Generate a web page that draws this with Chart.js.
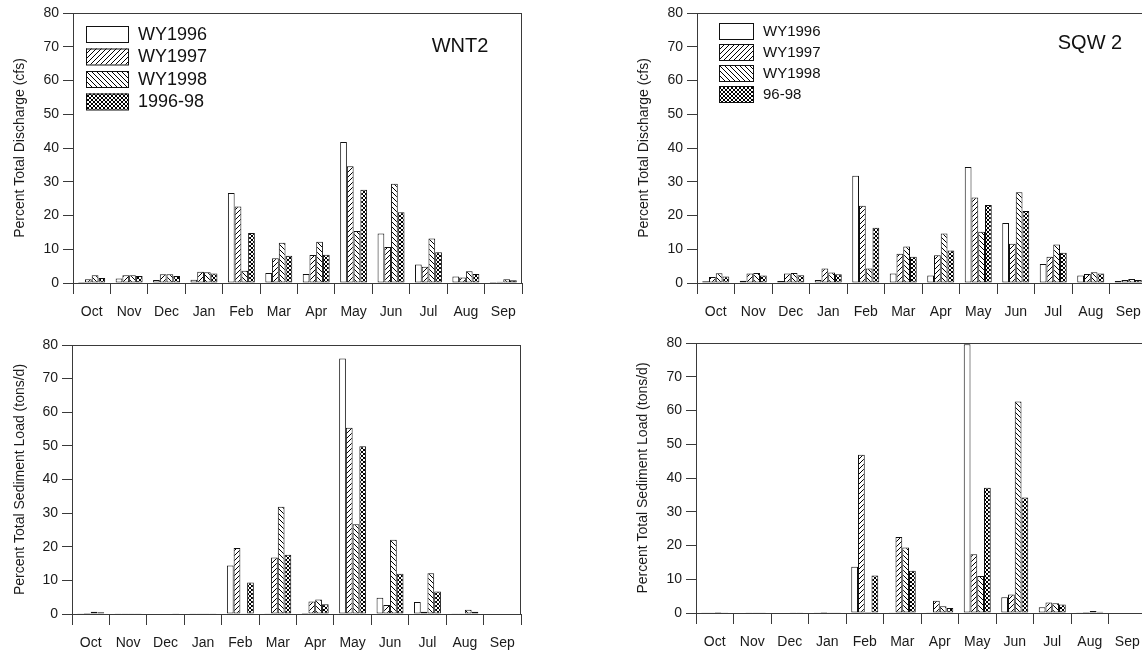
<!DOCTYPE html>
<html>
<head>
<meta charset="utf-8">
<script src="https://cdn.jsdelivr.net/npm/chart.js@4.4.0/dist/chart.umd.min.js"></script>
<style>
  html, body { margin: 0; padding: 0; background: #fff; overflow: hidden; }
  #wrap { position: relative; width: 1142px; height: 654px; overflow: hidden; }
  canvas { position: absolute; }
</style>
</head>
<body>
<div id="wrap">
  <canvas id="wntQ" width="560" height="330" style="left:0;top:0"></canvas>
  <canvas id="sqwQ" width="540" height="330" style="left:624px;top:0"></canvas>
  <canvas id="wntS" width="560" height="324" style="left:0;top:330px"></canvas>
  <canvas id="sqwS" width="540" height="324" style="left:623px;top:330px"></canvas>
</div>
<script>
// months of the water year
var months = ["Oct", "Nov", "Dec", "Jan", "Feb", "Mar", "Apr", "May", "Jun", "Jul", "Aug", "Sep"];
var yTicks = [0, 10, 20, 30, 40, 50, 60, 70, 80];

// WNT2 - percent total discharge
var wntQ1996 = [0.3, 1.3, 0.9, 1.0, 26.7, 3.0, 2.7, 41.8, 14.7, 5.5, 1.9, 0.3];
var wntQ1997 = [1.1, 2.3, 2.6, 3.3, 22.7, 7.3, 8.3, 34.6, 10.7, 4.8, 1.6, 0.4];
var wntQ1998 = [2.3, 2.3, 2.6, 3.2, 3.6, 11.9, 12.2, 15.4, 29.4, 13.2, 3.5, 1.1];
var wntQAvg = [1.5, 2.1, 2.1, 2.8, 14.8, 8.1, 8.4, 27.6, 21.0, 9.1, 2.7, 0.8];

// SQW 2 - percent total discharge
var sqwQ1996 = [0.5, 0.7, 0.6, 0.9, 31.8, 2.8, 2.2, 34.4, 17.8, 5.6, 2.2, 0.6];
var sqwQ1997 = [1.8, 2.8, 2.8, 4.3, 22.9, 8.7, 8.2, 25.3, 11.6, 7.8, 2.7, 0.9];
var sqwQ1998 = [2.9, 3.0, 3.0, 3.1, 4.3, 10.8, 14.7, 15.2, 26.9, 11.4, 3.2, 1.2];
var sqwQAvg = [1.9, 2.2, 2.3, 2.6, 16.4, 7.8, 9.6, 23.1, 21.3, 9.0, 2.8, 0.9];

// WNT2 - percent total sediment load
var wntS1996 = [0.2, 0.1, 0.0, 0.1, 14.4, 0.1, 0.3, 76.0, 4.8, 3.6, 0.1, 0.0];
var wntS1997 = [0.3, 0.1, 0.0, 0.1, 19.6, 16.8, 3.7, 55.4, 2.7, 0.7, 0.2, 0.0];
var wntS1998 = [0.7, 0.1, 0.0, 0.1, 0.2, 31.9, 4.3, 26.7, 22.1, 12.1, 1.3, 0.0];
var wntSAvg = [0.5, 0.1, 0.05, 0.1, 9.4, 17.6, 2.9, 49.9, 12.0, 6.7, 0.7, 0.0];

// SQW 2 - percent total sediment load
var sqwS1996 = [0.1, 0.0, 0.0, 0.05, 13.7, 0.05, 0.1, 79.6, 4.7, 1.7, 0.2, 0.0];
var sqwS1997 = [0.1, 0.1, 0.0, 0.3, 46.9, 22.5, 3.6, 17.4, 5.5, 3.1, 0.3, 0.0];
var sqwS1998 = [0.3, 0.1, 0.05, 0.1, 0.3, 19.4, 2.0, 11.0, 62.7, 2.9, 0.6, 0.0];
var sqwSAvg = [0.2, 0.05, 0.05, 0.1, 11.1, 12.5, 1.5, 37.1, 34.2, 2.5, 0.4, 0.0];

Chart.defaults.font.family = "'Liberation Sans', Arial, sans-serif";
Chart.defaults.color = "#1a1a1a";

var lineColor = "#3a3a3a";

// hatch fills like the old plotting package
function makePattern(kind) {
  var size = kind == "cross" ? 4 : 5;
  var c = document.createElement("canvas");
  c.width = size;
  c.height = size;
  var g = c.getContext("2d");
  g.fillStyle = "#fff";
  g.fillRect(0, 0, size, size);
  g.strokeStyle = "#000";
  g.lineWidth = 1;
  function fwd() {
    g.beginPath();
    g.moveTo(-1, size + 1); g.lineTo(size + 1, -1);
    g.moveTo(-1, 1); g.lineTo(1, -1);
    g.moveTo(size - 1, size + 1); g.lineTo(size + 1, size - 1);
    g.stroke();
  }
  function back() {
    g.beginPath();
    g.moveTo(-1, -1); g.lineTo(size + 1, size + 1);
    g.moveTo(-1, size - 1); g.lineTo(1, size + 1);
    g.moveTo(size - 1, -1); g.lineTo(size + 1, 1);
    g.stroke();
  }
  if (kind == "fwd") fwd();
  if (kind == "back") back();
  if (kind == "cross") { fwd(); back(); }
  return g.createPattern(c, "repeat");
}

var fills = ["#fff", makePattern("fwd"), makePattern("back"), makePattern("cross")];

function buildDatasets(series, labels) {
  var ds = [];
  for (var i = 0; i < series.length; i++) {
    ds.push({
      label: labels[i],
      data: series[i],
      backgroundColor: fills[i],
      borderColor: "#111",
      borderWidth: 1,
      borderSkipped: false,
      categoryPercentage: 0.72,
      barPercentage: 1.0
    });
  }
  return ds;
}

// frame, station name and legend drawn on top of the chart
var panelDeco = {
  id: "panelDeco",
  afterDraw: function (chart, args, opts) {
    var ctx = chart.ctx;
    var a = chart.chartArea;
    ctx.save();
    ctx.strokeStyle = lineColor;
    ctx.lineWidth = 1;
    ctx.beginPath();
    ctx.moveTo(a.left, Math.round(a.top) + 0.5);
    ctx.lineTo(a.right, Math.round(a.top) + 0.5);
    ctx.moveTo(Math.round(a.right) - 0.5, a.top);
    ctx.lineTo(Math.round(a.right) - 0.5, a.bottom);
    ctx.stroke();

    if (opts.name) {
      ctx.fillStyle = "#111";
      ctx.font = opts.nameSize + "px 'Liberation Sans', Arial, sans-serif";
      ctx.textAlign = "center";
      ctx.textBaseline = "middle";
      ctx.fillText(opts.name, opts.nameX, opts.nameY);
    }

    if (opts.legend) {
      var L = opts.legend;
      ctx.font = L.size + "px 'Liberation Sans', Arial, sans-serif";
      ctx.textAlign = "left";
      ctx.textBaseline = "middle";
      chart.data.datasets.forEach(function (d, i) {
        var y = L.y + i * L.pitch;
        ctx.fillStyle = d.backgroundColor;
        ctx.fillRect(L.x, y, L.w, L.h);
        ctx.strokeStyle = "#111";
        ctx.strokeRect(L.x + 0.5, y + 0.5, L.w, L.h);
        ctx.fillStyle = "#111";
        ctx.fillText(d.label, L.tx, y + L.h / 2 + 1);
      });
    }
    ctx.restore();
  }
};

function drawPanel(id, series, labels, cfg) {
  var ctx = document.getElementById(id).getContext("2d");
  return new Chart(ctx, {
    type: "bar",
    data: { labels: months, datasets: buildDatasets(series, labels) },
    options: {
      responsive: false,
      animation: false,
      devicePixelRatio: 1,
      layout: { autoPadding: false, padding: { top: cfg.top, right: cfg.right, left: 0, bottom: 0 } },
      plugins: {
        legend: { display: false },
        tooltip: { enabled: false },
        panelDeco: cfg.deco
      },
      scales: {
        x: {
          grid: { offset: true, drawOnChartArea: false, tickLength: 11, color: lineColor },
          border: { color: lineColor },
          ticks: { font: { size: 14 }, padding: 10, maxRotation: 0, autoSkip: false },
          afterFit: function (s) { s.height = cfg.xh; }
        },
        y: {
          min: 0,
          max: 80,
          afterBuildTicks: function (s) { s.ticks = yTicks.map(function (v) { return { value: v }; }); },
          grid: { drawOnChartArea: false, tickLength: 10, color: lineColor },
          border: { color: lineColor },
          ticks: { font: { size: 14 }, padding: 4 },
          title: { display: true, text: cfg.yTitle, font: { size: 14 }, padding: { top: 12, bottom: 0 } },
          afterFit: function (s) { s.width = cfg.yw; }
        }
      }
    },
    plugins: [panelDeco]
  });
}

drawPanel("wntQ", [wntQ1996, wntQ1997, wntQ1998, wntQAvg], ["WY1996", "WY1997", "WY1998", "1996-98"], {
  top: 13, right: 38, xh: 47, yw: 73,
  yTitle: "Percent Total Discharge (cfs)",
  deco: {
    name: "WNT2", nameSize: 20, nameX: 460, nameY: 46,
    legend: { x: 86, y: 26, w: 42, h: 16, pitch: 22.5, tx: 138, size: 18 }
  }
});

drawPanel("sqwQ", [sqwQ1996, sqwQ1997, sqwQ1998, sqwQAvg], ["WY1996", "WY1997", "WY1998", "96-98"], {
  top: 13, right: 17, xh: 47, yw: 73,
  yTitle: "Percent Total Discharge (cfs)",
  deco: {
    name: "SQW 2", nameSize: 20, nameX: 466, nameY: 43,
    legend: { x: 95, y: 23, w: 34, h: 16, pitch: 21, tx: 139, size: 15 }
  }
});

drawPanel("wntS", [wntS1996, wntS1997, wntS1998, wntSAvg], ["WY1996", "WY1997", "WY1998", "1996-98"], {
  top: 15, right: 39, xh: 40, yw: 72,
  yTitle: "Percent Total Sediment Load (tons/d)",
  deco: {}
});

drawPanel("sqwS", [sqwS1996, sqwS1997, sqwS1998, sqwSAvg], ["WY1996", "WY1997", "WY1998", "96-98"], {
  top: 13, right: 17, xh: 41, yw: 73,
  yTitle: "Percent Total Sediment Load (tons/d)",
  deco: {}
});
</script>
</body>
</html>
